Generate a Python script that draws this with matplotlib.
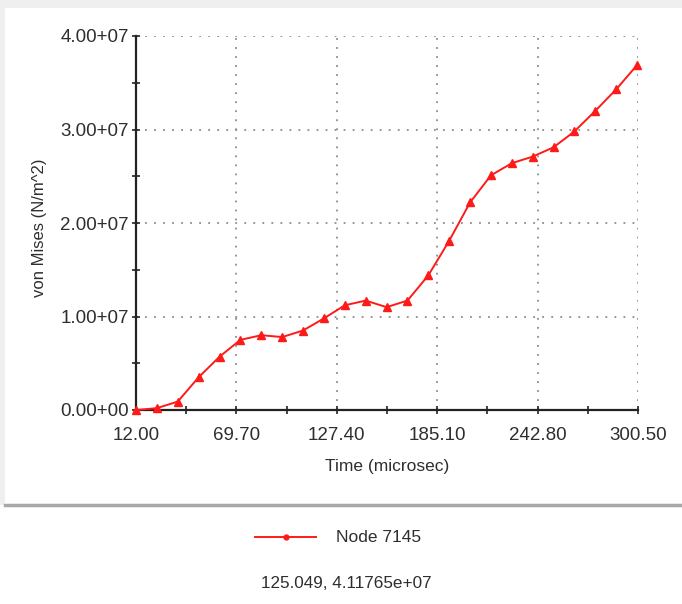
import matplotlib
matplotlib.use("Agg")
import matplotlib.pyplot as plt
from matplotlib.lines import Line2D
from matplotlib.patches import Rectangle

# Time samples (microsec) and von Mises stress (N/m^2) at Node 7145
time_us = [12.0, 24.0, 36.0, 48.0, 60.0, 72.0, 84.0, 96.0, 108.0, 120.0,
           132.0, 144.0, 156.0, 168.0, 180.0, 192.0, 204.0, 216.0, 228.0,
           240.0, 252.0, 264.0, 276.0, 288.0, 300.0]
stress_e7 = [0.00, 0.02, 0.09, 0.35, 0.57, 0.75, 0.80, 0.78, 0.85, 0.98,
             1.12, 1.17, 1.10, 1.17, 1.44, 1.81, 2.22, 2.51, 2.64, 2.71,
             2.81, 2.98, 3.20, 3.43, 3.69]
stress = [v * 1e7 for v in stress_e7]

x_ticks = [12.00, 69.70, 127.40, 185.10, 242.80, 300.50]
x_tick_labels = ["12.00", "69.70", "127.40", "185.10", "242.80", "300.50"]
y_ticks = [0.0, 1e7, 2e7, 3e7, 4e7]
y_tick_labels = ["0.00+00", "1.00+07", "2.00+07", "3.00+07", "4.00+07"]

series_name = "Node 7145"
cursor_readout = "125.049, 4.11765e+07"

W, H = 682, 604
TEXT = "#2e2e2e"
RED = "#ff1a1a"

plt.rcParams["font.family"] = ["Liberation Sans", "DejaVu Sans"]

fig = plt.figure(figsize=(W / 100, H / 100), dpi=100)
fig.patch.set_facecolor("white")

# window frame: light strips on top/left, shadow under the chart panel
fig.add_artist(Rectangle((0, 1 - 8 / H), 1, 8 / H, transform=fig.transFigure,
                         facecolor="#efefef", edgecolor="none", zorder=0))
fig.add_artist(Rectangle((0, 1 - 505 / H), 5 / W, 505 / H, transform=fig.transFigure,
                         facecolor="#efefef", edgecolor="none", zorder=0))
fig.add_artist(Line2D([5 / W, 1], [1 - 505 / H, 1 - 505 / H], transform=fig.transFigure,
                      color="#a8a8a8", lw=2.5, zorder=0))

ax = fig.add_axes([136 / W, 1 - 410 / H, (638 - 136) / W, (410 - 36) / H])
ax.set_facecolor("white")

ax.plot(time_us, stress, color=RED, lw=1.4, marker="^", markersize=5.5,
        markerfacecolor=RED, markeredgecolor=RED, zorder=3, clip_on=False)

ax.set_xlim(x_ticks[0], x_ticks[-1])
ax.set_ylim(y_ticks[0], y_ticks[-1])

ax.set_xticks(x_ticks)
ax.set_xticklabels(x_tick_labels)
ax.set_yticks(y_ticks)
ax.set_yticklabels(y_tick_labels)
ax.set_xticks([(a + b) / 2 for a, b in zip(x_ticks[:-1], x_ticks[1:])], minor=True)
ax.set_yticks([(a + b) / 2 for a, b in zip(y_ticks[:-1], y_ticks[1:])], minor=True)

ax.tick_params(which="both", direction="inout", length=6, width=1.2,
               color="#222222", labelsize=13.5, labelcolor=TEXT)
ax.tick_params(axis="x", which="major", pad=9)
ax.tick_params(axis="y", which="major", pad=2)

ax.grid(True, which="major", color="#8c8c8c", linestyle=(0, (1, 4)), lw=1.3)
ax.set_axisbelow(True)

for side in ("top", "right"):
    ax.spines[side].set_visible(False)
for side in ("left", "bottom"):
    ax.spines[side].set_linewidth(1.6)
    ax.spines[side].set_color("#222222")

ax.set_xlabel("Time (microsec)", fontsize=12.5, color=TEXT)
ax.xaxis.set_label_coords((387 - 136) / (638 - 136), -(467 - 410) / (410 - 36))
ax.xaxis.label.set_va("center")
ax.set_ylabel("von Mises (N/m^2)", fontsize=12, color=TEXT)
ax.yaxis.set_label_coords(-(136 - 40) / (638 - 136), (410 - 228) / (410 - 36))
ax.yaxis.label.set_va("center")

# legend entry below the chart
fig.add_artist(Line2D([255 / W, 316 / W], [1 - 537 / H] * 2, transform=fig.transFigure,
                      color=RED, lw=1.4))
fig.add_artist(Line2D([286 / W], [1 - 537 / H], transform=fig.transFigure,
                      color=RED, marker="o", markersize=3.5, lw=0))
fig.text(336 / W, 1 - 537 / H, series_name, fontsize=12.5, color=TEXT,
         ha="left", va="center")

fig.text(346 / W, 1 - 583 / H, cursor_readout, fontsize=12.3, color=TEXT,
         ha="center", va="center")

fig.savefig("out.png", dpi=100)
